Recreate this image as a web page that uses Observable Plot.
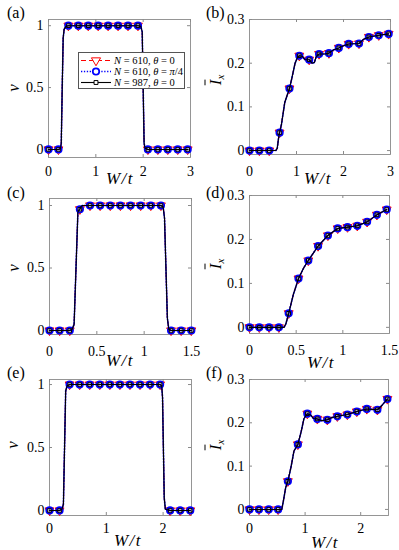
<!DOCTYPE html>
<html><head><meta charset="utf-8">
<script src="https://cdn.jsdelivr.net/npm/d3@7"></script>
<script src="https://cdn.jsdelivr.net/npm/@observablehq/plot@0.6"></script>
<style>
body{margin:0;background:#fff;}
#fig{position:relative;width:399px;height:550px;background:#fff;font-family:'Liberation Serif','Tinos','DejaVu Serif',serif;overflow:hidden;color:#000}
#fig svg text{font-family:'Liberation Serif','Tinos','DejaVu Serif',serif}
.abs{position:absolute;white-space:nowrap;line-height:1}
.plab{font-size:16px;transform:translate(0,-50%)}
.xl{font-size:17px;font-style:italic;letter-spacing:1.5px;transform:translate(-50%,-50%)}
.yl{font-size:17px;font-style:italic;transform:translate(-50%,-50%) rotate(-90deg)}
.leg{font-size:10.5px}
</style></head><body><div id="fig"></div>
<script>
// ---------- data ----------
const seriesNames = ["N = 610, θ = 0", "N = 610, θ = π/4", "N = 987, θ = 0"];

// panel (a): nu vs W/t, x in [0,3]
const xMarks_a = [0,0.21,0.42,0.63,0.84,1.05,1.26,1.47,1.68,1.89,2.10,2.31,2.52,2.73,2.94];
const nu_a     = [0,0,1,1,1,1,1,1,1,1,0,0,0,0,0];
const lineX_a  = [0,0.21,0.25,0.27,0.29,0.31,0.33,0.37,0.42,1.89,1.95,1.98,2.0,2.02,2.04,2.10,2.94];
const lineY_a  = [0,0,0.005,0.05,0.5,0.9,0.97,0.995,1,1,0.995,0.95,0.5,0.05,0.01,0,0];

// panel (b): I_x vs W/t, x in [0,3]
const xMarks_b = [0,0.21,0.42,0.64,0.85,1.06,1.27,1.48,1.69,1.90,2.11,2.33,2.54,2.75,2.96];
const Ix_b     = [0,0,0,0.041,0.142,0.217,0.208,0.221,0.223,0.235,0.244,0.245,0.260,0.264,0.267];
const lineX_b  = [0,0.42,0.56,0.59,0.62,0.64,0.68,0.75,0.85,0.90,0.97,1.02,1.06,1.12,1.18,1.27,1.33,1.38,1.42,1.48,1.60,1.69,1.78,1.90,2.00,2.11,2.33,2.43,2.54,2.75,2.96];
const lineY_b  = [0,0,0,0.005,0.03,0.041,0.06,0.11,0.142,0.165,0.20,0.213,0.217,0.216,0.208,0.208,0.200,0.2015,0.215,0.221,0.221,0.223,0.230,0.235,0.240,0.244,0.245,0.255,0.260,0.264,0.267];

// panel (c): nu vs W/t, x in [0,1.5]
const xMarks_c = [0,0.107,0.214,0.321,0.428,0.535,0.642,0.749,0.856,0.963,1.07,1.177,1.284,1.391,1.498];
const nu_c     = [0,0,0,0.97,1,1,1,1,1,1,1,1,0,0,0];
const lineX_c  = [0,0.214,0.24,0.26,0.28,0.30,0.321,0.33,0.35,1.177,1.20,1.215,1.23,1.245,1.26,1.284,1.498];
const lineY_c  = [0,0,0.01,0.05,0.5,0.95,0.97,0.99,1,1,0.99,0.9,0.5,0.1,0.01,0,0];

// panel (d): I_x vs W/t, x in [0,1.5]
const xMarks_d = [0,0.105,0.21,0.315,0.42,0.525,0.63,0.735,0.84,0.945,1.05,1.155,1.26,1.365,1.47];
const Ix_d     = [0,0,0,0,0.032,0.111,0.152,0.185,0.209,0.225,0.228,0.231,0.240,0.256,0.268];
const lineX_d  = [0,0.315,0.37,0.39,0.42,0.47,0.525,0.58,0.63,0.735,0.84,0.945,1.05,1.155,1.26,1.365,1.47];
const lineY_d  = [0,0,0,0.008,0.032,0.075,0.111,0.135,0.152,0.185,0.209,0.225,0.228,0.231,0.240,0.256,0.268];

// panel (e): nu vs W/t, x in [0,2.5]
const xMarks_e = [0,0.177,0.354,0.531,0.708,0.885,1.062,1.239,1.416,1.593,1.77,1.947,2.124,2.301,2.478];
const nu_e     = [0,0,1,1,1,1,1,1,1,1,1,1,0,0,0];
const lineX_e  = [0,0.177,0.22,0.245,0.265,0.285,0.31,0.354,1.947,1.975,1.99,2.005,2.02,2.04,2.124,2.478];
const lineY_e  = [0,0,0.01,0.05,0.5,0.95,0.99,1,1,0.99,0.9,0.5,0.1,0.01,0,0];

// panel (f): I_x vs W/t, x in [0,2.5]
const xMarks_f = [0,0.17,0.345,0.515,0.69,0.87,1.04,1.22,1.40,1.58,1.76,1.93,2.11,2.30,2.48];
const Ix_f     = [0,0,0,0,0.065,0.150,0.221,0.209,0.207,0.215,0.219,0.226,0.232,0.230,0.255];
const lineX_f  = [0,0.515,0.58,0.61,0.65,0.69,0.75,0.80,0.87,0.93,0.98,1.04,1.10,1.15,1.22,1.30,1.40,1.48,1.58,1.76,1.93,2.11,2.20,2.30,2.38,2.48];
const lineY_f  = [0,0,0,0.02,0.05,0.065,0.10,0.135,0.150,0.18,0.21,0.221,0.218,0.21,0.209,0.205,0.207,0.212,0.215,0.219,0.226,0.232,0.231,0.230,0.240,0.255];

const ticksNu = [0,0.5,1];
const ticksIx = [0,0.1,0.2,0.3];

// ---------- styles ----------
const sty = [
  {stroke:"#ff0000", width:1.1, dash:"5,3", symbol:"triangle", rotate:180, r:3.3, sw:1, legR:3.4},
  {stroke:"#0000ff", width:1.6, dash:"1.3,1.6", symbol:"circle", rotate:0, r:3.2, sw:1.8, legR:3.2},
  {stroke:"#000000", width:1.1, dash:null, symbol:"square", rotate:0, r:2.0, sw:1, legR:2.2}
];
const FONT = "'Liberation Serif','Tinos','DejaVu Serif',serif";
const fig = document.getElementById("fig");

function panel(cfg){
  const {colX, colW, frame:[l,t,r,b], xDomain, yDomain, xTicks, yTicks, xPad, lineX, lineY, xm, ym} = cfg;
  const mt = 10, mb = 32;
  const fw = r - l, fh = b - t;
  const lineData = lineX.map((x,i)=>({x, y: lineY[i]}));
  const markData = xm.map((x,i)=>({x, y: ym[i]}));
  const marks = [
    Plot.frame({stroke:"#8a8a8a", strokeWidth:0.9}),
    Plot.tickX(xTicks,{x:d=>d, insetTop: fh-3, stroke:"#8a8a8a"}),
    Plot.tickX(xTicks,{x:d=>d, insetBottom: fh-3, stroke:"#8a8a8a"}),
    Plot.tickY(yTicks,{y:d=>d, insetRight: fw-3, stroke:"#8a8a8a"}),
    Plot.tickY(yTicks,{y:d=>d, insetLeft: fw-3, stroke:"#8a8a8a"}),
    Plot.axisX({ticks:xTicks, tickSize:0, tickPadding:xPad, label:null, tickFormat: d=>String(d), fontFamily:FONT}),
    Plot.axisY({ticks:yTicks, tickSize:0, tickPadding:5, label:null, tickFormat: d=>String(d), fontFamily:FONT})
  ];
  sty.forEach(s=>{
    marks.push(Plot.line(lineData,{x:"x", y:"y", stroke:s.stroke, strokeWidth:s.width, strokeDasharray:s.dash, curve:"linear"}));
    marks.push(Plot.dot(markData,{x:"x", y:"y", symbol:()=>s.symbol, r:s.r, rotate:s.rotate, stroke:s.stroke, strokeWidth:s.sw, fill:"none"}));
  });
  const p = Plot.plot({
    width: colW, height: fh + mt + mb,
    marginLeft: l - colX, marginRight: colX + colW - r, marginTop: mt, marginBottom: mb,
    x:{domain:xDomain}, y:{domain:yDomain},
    symbol:{type:"identity"},
    style:{fontFamily:FONT, fontSize:"14px", background:"transparent", overflow:"visible", color:"#000"},
    marks
  });
  p.style.position = "absolute";
  p.style.left = colX + "px";
  p.style.top = (t - mt) + "px";
  fig.appendChild(p);
}

panel({colX:0, colW:200, frame:[48,19,190,157], xDomain:[0,3], yDomain:[-0.065,1.05], xTicks:[0,1,2,3], yTicks:ticksNu, xPad:9, lineX:lineX_a, lineY:lineY_a, xm:xMarks_a, ym:nu_a});
panel({colX:200, colW:199, frame:[249,19,390,154], xDomain:[0,3], yDomain:[-0.009,0.3], xTicks:[0,1,2,3], yTicks:ticksIx, xPad:12, lineX:lineX_b, lineY:lineY_b, xm:xMarks_b, ym:Ix_b});
panel({colX:0, colW:200, frame:[49,198,191,334], xDomain:[0,1.5], yDomain:[-0.032,1.056], xTicks:[0,0.5,1,1.5], yTicks:ticksNu, xPad:12, lineX:lineX_c, lineY:lineY_c, xm:xMarks_c, ym:nu_c});
panel({colX:200, colW:199, frame:[249,195,389,333], xDomain:[0,1.5], yDomain:[-0.014,0.3], xTicks:[0,0.5,1,1.5], yTicks:ticksIx, xPad:12, lineX:lineX_d, lineY:lineY_d, xm:xMarks_d, ym:Ix_d});
panel({colX:0, colW:200, frame:[49,379,191,515], xDomain:[0,2.5], yDomain:[-0.04,1.04], xTicks:[0,1,2], yTicks:ticksNu, xPad:8, lineX:lineX_e, lineY:lineY_e, xm:xMarks_e, ym:nu_e});
panel({colX:200, colW:199, frame:[249,379,388,515], xDomain:[0,2.5], yDomain:[-0.014,0.3], xTicks:[0,1,2], yTicks:ticksIx, xPad:8, lineX:lineX_f, lineY:lineY_f, xm:xMarks_f, ym:Ix_f});

// ---------- text labels ----------
function addText(html, cls, x, y){
  const d = document.createElement("div");
  d.className = "abs " + cls;
  d.style.left = x + "px"; d.style.top = y + "px";
  d.innerHTML = html;
  fig.appendChild(d);
}
const panelLabels = ["(a)","(b)","(c)","(d)","(e)","(f)"];
const plPos = [[7,13],[206,13],[7,193],[206,193],[7,373],[206,373]];
panelLabels.forEach((s,i)=>addText(s,"plab",plPos[i][0],plPos[i][1]));

const xlPos = [[120,178],[318,178],[120,360],[321,362],[128,540],[325,542]];
xlPos.forEach(p=>addText("W/t","xl",p[0],p[1]));

const nuLabel = "ν";
const IxLabel = '<span style="text-decoration:overline">I</span><sub style="font-size:11px;vertical-align:-3px">x</sub>';
[[13,88],[13,268],[12,445]].forEach(p=>addText(nuLabel,"yl",p[0],p[1]));
[[216,80],[216,264],[216,445]].forEach(p=>addText(IxLabel,"yl",p[0],p[1]));

// ---------- legend ----------
const leg = document.createElement("div");
leg.className = "abs";
leg.style.cssText += "left:78px;top:52px;width:107px;height:37px;border:0.9px solid #555;background:#fff;box-sizing:border-box;";
fig.appendChild(leg);
const legHTML = [
  '<i>N</i> = 610, <i>θ</i> = 0',
  '<i>N</i> = 610, <i>θ</i> = <i>π</i>/4',
  '<i>N</i> = 987, <i>θ</i> = 0'
];
sty.forEach((s,i)=>{
  const row = document.createElement("div");
  row.className = "abs leg";
  row.style.left = "1px"; row.style.top = (2 + i*11) + "px"; row.style.height = "11px";
  const ns = "http://www.w3.org/2000/svg";
  const svg = document.createElementNS(ns,"svg");
  svg.setAttribute("width","32"); svg.setAttribute("height","11");
  svg.style.position="absolute"; svg.style.left="0px"; svg.style.top="0px";
  const ln = document.createElementNS(ns,"line");
  ln.setAttribute("x1","1"); ln.setAttribute("x2","31"); ln.setAttribute("y1","5.5"); ln.setAttribute("y2","5.5");
  ln.setAttribute("stroke",s.stroke); ln.setAttribute("stroke-width",s.width);
  if (s.dash) ln.setAttribute("stroke-dasharray",s.dash);
  svg.appendChild(ln);
  const sym = {triangle:d3.symbolTriangle, circle:d3.symbolCircle, square:d3.symbolSquare}[s.symbol];
  const pth = document.createElementNS(ns,"path");
  pth.setAttribute("d", d3.symbol(sym, Math.PI*s.legR*s.legR)());
  pth.setAttribute("transform", `translate(16,5.5) rotate(${s.rotate})`);
  pth.setAttribute("fill","#fff"); pth.setAttribute("stroke",s.stroke); pth.setAttribute("stroke-width",s.sw);
  svg.appendChild(pth);
  row.appendChild(svg);
  const tx = document.createElement("span");
  tx.style.cssText = "position:absolute;left:34px;top:0.5px;white-space:nowrap;";
  tx.innerHTML = legHTML[i];
  tx.title = seriesNames[i];
  row.appendChild(tx);
  leg.appendChild(row);
});
</script>
</body></html>
